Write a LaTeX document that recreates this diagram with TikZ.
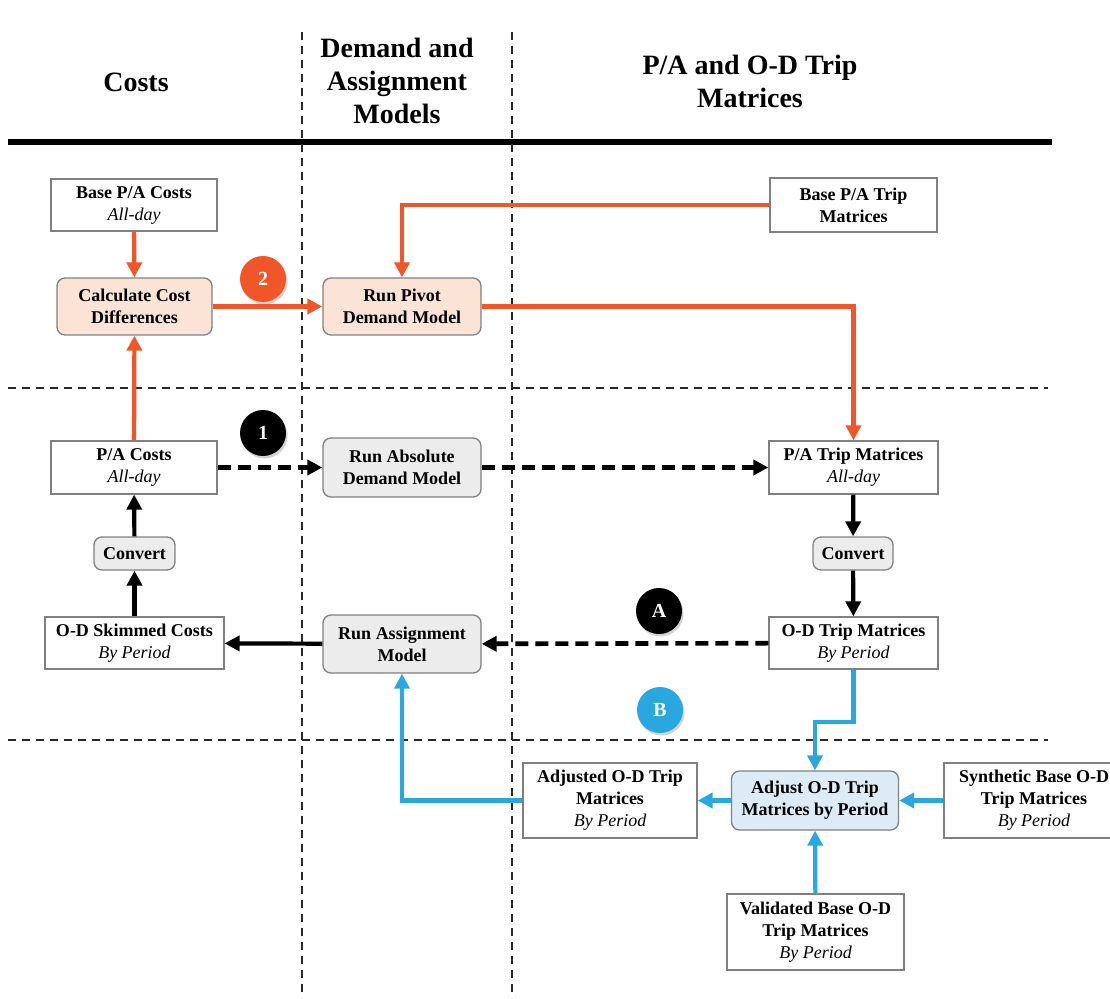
\documentclass[tikz,border=0pt]{standalone}
\usepackage{fontspec}
\setmainfont{Liberation Serif}
\usetikzlibrary{arrows.meta,shadows}

\definecolor{flowred}{RGB}{240,86,40}
\definecolor{flowblue}{RGB}{41,168,224}
\definecolor{peach}{RGB}{251,228,213}
\definecolor{softgray}{RGB}{236,236,236}
\definecolor{softblue}{RGB}{221,235,247}
\definecolor{rimgray}{RGB}{128,128,128}
\definecolor{guidegray}{RGB}{40,40,40}

\tikzset{
  box/.style={draw=rimgray, line width=1.3pt, fill=white, align=center,
    inner sep=0pt, font=\fontsize{18}{22}\selectfont\bfseries},
  datab/.style={box},
  procb/.style={box, rounded corners=8pt},
  peachb/.style={procb, fill=peach},
  grayb/.style={procb, fill=softgray},
  blueb/.style={procb, fill=softblue},
  sz/.style 2 args={minimum width=#1pt, minimum height=#2pt},
  tip/.style={-{Triangle[length=15pt,width=15pt]}},
  redline/.style={draw=flowred, line width=4.2pt, tip},
  blueline/.style={draw=flowblue, line width=4.2pt, tip},
  blackline/.style={draw=black, line width=4.2pt, tip},
  blackdash/.style={draw=black, line width=4.6pt, dash pattern=on 13pt off 7pt, tip},
  guide/.style={draw=guidegray, line width=2.2pt, dash pattern=on 8pt off 6pt},
  badge/.style={circle, minimum size=46pt, inner sep=0pt, text=white,
    font=\fontsize{20}{20}\selectfont\bfseries,
    drop shadow={shadow xshift=1.5pt, shadow yshift=-2.5pt, opacity=0.35}},
  head/.style={align=center, font=\fontsize{28}{33}\selectfont\bfseries}
}
\newcommand{\sub}[1]{{\mdseries\itshape #1}}

\begin{document}
\begin{tikzpicture}[x=1pt,y=-1pt]
\useasboundingbox (0,0) rectangle (1110,998);

% column headers and rules
\node[head] (hcost) at (136,82) {Costs};
\node[head] (hmodel) at (397,81) {Demand and\\Assignment\\Models};
\node[head] (hmat) at (750,81) {P/A and O-D Trip\\Matrices};
\draw[line width=5.5pt] (8,142) coordinate (ruleL) -- (1052,142) coordinate (ruleR);

\draw[guide] (302,32) coordinate (vA1) -- (302,998) coordinate (vA2);
\draw[guide] (512,32) coordinate (vB1) -- (512,998) coordinate (vB2);
\draw[guide] (8,388) coordinate (hA1) -- (1048,388) coordinate (hA2);
\draw[guide] (8,740) coordinate (hB1) -- (1048,740) coordinate (hB2);

% boxes
\node[datab, sz={166}{52}] (bpac) at (134,205) {Base P/A Costs\\\sub{All-day}};
\node[peachb, sz={155}{57}] (calc) at (134.5,306.5) {Calculate Cost\\Differences};
\node[peachb, sz={158}{57}] (pivot) at (402,306.5) {Run Pivot\\Demand Model};
\node[datab, sz={167}{54}] (bpat) at (853.5,205) {Base P/A Trip\\Matrices};

\node[datab, sz={166}{53}] (pac) at (134,467.5) {P/A Costs\\\sub{All-day}};
\node[grayb, sz={158}{59}] (abs) at (402,467.5) {Run Absolute\\Demand Model};
\node[datab, sz={169}{53}] (patm) at (853.5,467.5) {P/A Trip Matrices\\\sub{All-day}};

\node[grayb, sz={81}{33}] (convL) at (134.5,553.5) {Convert};
\node[grayb, sz={80}{33}] (convR) at (853,553.5) {Convert};

\node[datab, sz={179}{52}] (odsk) at (134.5,643) {O-D Skimmed Costs\\\sub{By Period}};
\node[grayb, sz={158}{58}] (assign) at (402,644) {Run Assignment\\Model};
\node[datab, sz={169}{52}] (odtm) at (853.5,643) {O-D Trip Matrices\\\sub{By Period}};

\node[datab, sz={174}{75}] (adjd) at (610,800.5) {Adjusted O-D Trip\\Matrices\\\sub{By Period}};
\node[blueb, sz={167}{59}] (adj) at (815,800.5) {Adjust O-D Trip\\Matrices by Period};
\node[datab, sz={180}{75}] (synth) at (1034,800.5) {Synthetic Base O-D\\Trip Matrices\\\sub{By Period}};
\node[datab, sz={177}{76}] (valid) at (815.5,932) {Validated Base O-D\\Trip Matrices\\\sub{By Period}};

% numbered and lettered markers
\node[badge, fill=flowred] (b2) at (263,279) {2};
\node[badge, fill=black] (b1) at (263,433) {1};
\node[badge, fill=black] (bA) at (659,611) {A};
\node[badge, fill=flowblue] (bB) at (660,710) {B};

% pivot route (orange)
\draw[redline] (bpac) -- (calc);
\draw[redline] (pac) -- (calc);
\draw[redline] (calc) -- (pivot);
\draw[redline] (bpat.west) -| (pivot.north);
\draw[redline] (pivot.east) -| (patm.north);

% absolute route (black)
\draw[blackdash] (pac) -- (abs);
\draw[blackdash] (abs) -- (patm);
\draw[blackline] (patm) -- (convR);
\draw[blackline] (convR) -- (odtm);
\draw[blackdash] (odtm) -- (assign);
\draw[blackline] (assign) -- (odsk);
\draw[blackline] (odsk) -- (convL);
\draw[blackline] (convL) -- (pac);

% adjustment route (blue)
\coordinate (bjog) at (0,722);
\draw[blueline] (odtm.south) -- (odtm.south |- bjog) -| (adj.north);
\draw[blueline] (adj) -- (adjd);
\draw[blueline] (synth) -- (adj);
\draw[blueline] (valid) -- (adj);
\draw[blueline] (adjd.west) -| (assign.south);
\end{tikzpicture}
\end{document}
